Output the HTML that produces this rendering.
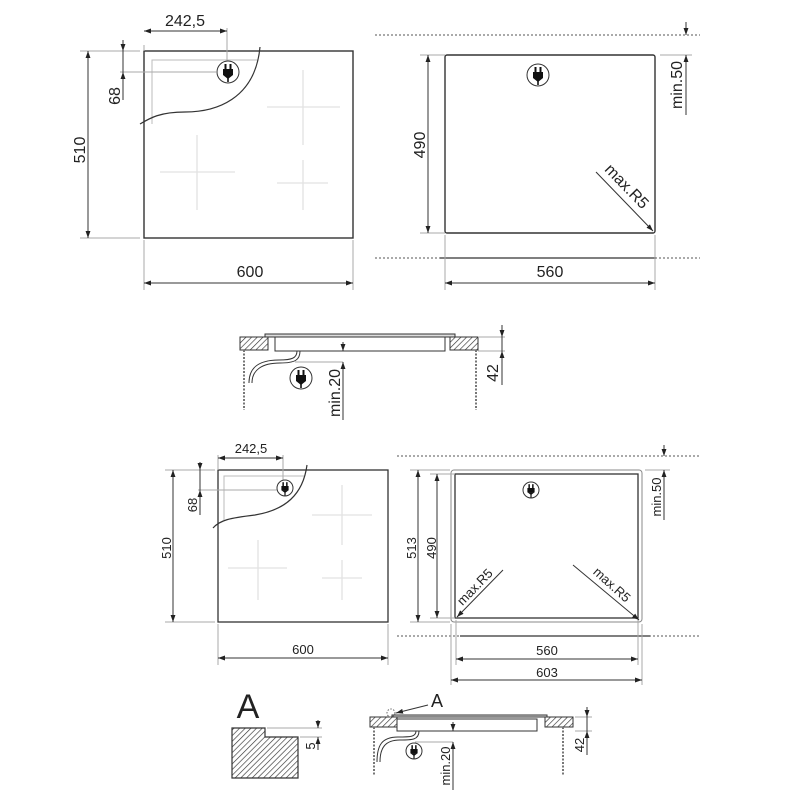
<!DOCTYPE html>
<html><head><meta charset="utf-8"><style>html,body{margin:0;background:#fff}svg{display:block}text{font-family:"Liberation Sans",sans-serif;fill:#222}</style></head><body>
<svg width="800" height="800" viewBox="0 0 800 800" xmlns="http://www.w3.org/2000/svg">
<defs>
<marker id="a" viewBox="0 0 10 10" refX="10" refY="5" markerWidth="7" markerHeight="7" orient="auto-start-reverse"><path d="M0,1.5 L10,5 L0,8.5z" fill="#222"/></marker>
<pattern id="h" width="4" height="4" patternUnits="userSpaceOnUse" patternTransform="rotate(45)"><rect width="4" height="4" fill="#fff"/><line x1="0" y1="0" x2="0" y2="4" stroke="#333" stroke-width="1.3"/></pattern>
<g id="plug"><circle r="11" fill="#fff" stroke="#333" stroke-width="1"/><rect x="-5" y="-3" width="10" height="6" fill="#111"/><rect x="-3.5" y="-8" width="2" height="5" fill="#111"/><rect x="1.5" y="-8" width="2" height="5" fill="#111"/><path d="M-5,3 L0,7 L5,3z" fill="#111"/><rect x="-0.8" y="6" width="1.6" height="4" fill="#111"/></g>
<g id="plugs"><circle r="8" fill="#fff" stroke="#333" stroke-width="1"/><rect x="-3.6" y="-2" width="7.2" height="4.4" fill="#111"/><rect x="-2.6" y="-5.8" width="1.5" height="4" fill="#111"/><rect x="1.1" y="-5.8" width="1.5" height="4" fill="#111"/><path d="M-3.6,2.3 L0,5 L3.6,2.3z" fill="#111"/><rect x="-0.6" y="4.5" width="1.2" height="3" fill="#111"/></g>
</defs>
<g fill="none" stroke="#333" stroke-width="1">
<rect x="144" y="51" width="209" height="187" stroke-width="1.4"/>
<path d="M152,124 V60 H258" stroke="#bbb"/>
<g stroke="#e2e2e2" stroke-width="1.3"><path d="M160,172H235M197,135V210M267,107H340M303,70V145M277,183H328M303,160V210"/></g>
<path d="M260,47 C255,100 215,112 185,112 C160,112 150,118 140,124" stroke-width="1.2"/>
<path d="M144,45V51M227,28V62M120,72H216M353,240V290M144,240V290M80,51H140M80,238H140" stroke="#aaa"/>
<path d="M144,31H227" marker-start="url(#a)" marker-end="url(#a)"/>
<path d="M123,40V51" marker-end="url(#a)"/><path d="M123,100V72" marker-end="url(#a)"/><path d="M123,51V72"/>
<path d="M88,51V238" marker-start="url(#a)" marker-end="url(#a)"/>
<path d="M144,283H353" marker-start="url(#a)" marker-end="url(#a)"/>
<path d="M375,35H700M375,258H700" stroke-dasharray="2 2" stroke="#555"/>
<path d="M440,258H656" stroke-width="1.2"/>
<rect x="445" y="55" width="210" height="178" rx="2" stroke-width="1.4"/>
<path d="M420,55H445M420,233H445M445,235V290M655,235V290M660,55H692" stroke="#aaa"/>
<path d="M428,55V233" marker-start="url(#a)" marker-end="url(#a)"/>
<path d="M686,22V35" marker-end="url(#a)"/><path d="M686,115V55" marker-end="url(#a)"/>
<path d="M596,172L653,231" marker-end="url(#a)"/>
<path d="M445,283H655" marker-start="url(#a)" marker-end="url(#a)"/>
<rect x="240" y="337" width="28" height="13" fill="url(#h)"/>
<rect x="450" y="337" width="28" height="13" fill="url(#h)"/>
<rect x="265" y="334" width="190" height="3" fill="#ddd"/>
<rect x="275" y="337" width="170" height="14"/>
<path d="M244,350V410M476,350V410" stroke="#777" stroke-dasharray="2 1.5" stroke-width="2"/>
<path d="M300,351 C300,360 295,363 280,363 C262,363 252,370 252,383 M297,351 C297,358 292,360 279,360 C258,360 249,368 249,383"/>
<path d="M295,362H343M478,351H505M478,337H505" stroke="#aaa"/>
<path d="M343,342V351" marker-end="url(#a)"/><path d="M343,420V362" marker-end="url(#a)"/>
<path d="M502,325V337" marker-end="url(#a)"/><path d="M502,385V351" marker-end="url(#a)"/><path d="M502,337V351"/>
<rect x="218" y="470" width="170" height="152" stroke-width="1.3"/>
<path d="M224,520V476H305" stroke="#bbb"/>
<g stroke="#e2e2e2" stroke-width="1.3"><path d="M228,568H287M258,540V600M312,515H372M342,485V545M322,578H362M342,560V600"/></g>
<path d="M307,465 C303,495 285,510 255,515 C230,518 220,520 213,528" stroke-width="1.2"/>
<path d="M218,455V470M283,455V490M198,490H280M218,624V665M388,624V665M165,470H215M165,622H215" stroke="#aaa"/>
<path d="M218,458H283" marker-start="url(#a)" marker-end="url(#a)"/>
<path d="M200,462V470" marker-end="url(#a)"/><path d="M200,515V490" marker-end="url(#a)"/><path d="M200,470V490"/>
<path d="M173,470V622" marker-start="url(#a)" marker-end="url(#a)"/>
<path d="M218,658H388" marker-start="url(#a)" marker-end="url(#a)"/>
<path d="M397,456H700M397,636H700" stroke-dasharray="2 2" stroke="#555"/>
<path d="M460,636H650" stroke-width="1.2"/>
<rect x="451" y="470" width="191" height="152" rx="3" stroke="#888"/>
<rect x="455" y="474" width="183" height="144" stroke-width="1.3"/>
<path d="M410,470H450M430,474H455M410,622H450M430,618H455M451,624V685M642,624V685M456,620V665M638,620V665M645,470H670" stroke="#aaa"/>
<path d="M418,470V622" marker-start="url(#a)" marker-end="url(#a)"/>
<path d="M437,474V618" marker-start="url(#a)" marker-end="url(#a)"/>
<path d="M664,445V456" marker-end="url(#a)"/><path d="M664,520V470" marker-end="url(#a)"/>
<path d="M503,570L457,617" marker-end="url(#a)"/>
<path d="M573,565L639,620" marker-end="url(#a)"/>
<path d="M456,659H638" marker-start="url(#a)" marker-end="url(#a)"/>
<path d="M451,680H642" marker-start="url(#a)" marker-end="url(#a)"/>
<path d="M232,728H265V737H298V778H232Z" fill="url(#h)" stroke-width="1.2"/>
<path d="M267,728H322M300,737H322" stroke="#aaa"/>
<path d="M318,720V728" marker-end="url(#a)"/><path d="M318,750V737" marker-end="url(#a)"/>
<rect x="370" y="717" width="27" height="10" fill="url(#h)"/>
<rect x="545" y="717" width="28" height="10" fill="url(#h)"/>
<rect x="392" y="715" width="155" height="2" fill="#ddd"/>
<rect x="397" y="719" width="140" height="12"/>
<path d="M374,727V775M563,727V775" stroke="#777" stroke-dasharray="2 1.5" stroke-width="2"/>
<path d="M419,731 C419,740 412,740 400,740 C385,740 380,748 380,762 M416,731 C416,737 410,737 398,737 C382,737 377,745 377,762"/>
<circle cx="391" cy="713" r="4" stroke-dasharray="1.5 1.5" stroke="#666"/>
<path d="M428,705L396,713" marker-end="url(#a)"/>
<path d="M415,742H453M575,717H592M575,731H592" stroke="#aaa"/>
<path d="M453,722V731" marker-end="url(#a)"/><path d="M453,790V742" marker-end="url(#a)"/>
<path d="M587,707V717" marker-end="url(#a)"/><path d="M587,755V731" marker-end="url(#a)"/><path d="M587,717V731"/>
</g>
<use href="#plug" x="228" y="72"/><use href="#plug" x="538" y="75"/><use href="#plug" x="301" y="378"/>
<use href="#plugs" x="285" y="488"/><use href="#plugs" x="531" y="490"/><use href="#plugs" x="414" y="751"/>
<g font-size="16" text-anchor="middle">
<text x="185" y="26">242,5</text>
<text x="250" y="277">600</text>
<text x="550" y="277">560</text>
<text transform="translate(120,96) rotate(-90)">68</text>
<text transform="translate(85,150) rotate(-90)">510</text>
<text transform="translate(425,145) rotate(-90)">490</text>
<text transform="translate(682,85) rotate(-90)">min.50</text>
<text transform="translate(623,190) rotate(46)">max.R5</text>
<text transform="translate(340,393) rotate(-90)">min.20</text>
<text transform="translate(498,373) rotate(-90)">42</text>
</g>
<g font-size="13" text-anchor="middle">
<text x="251" y="453">242,5</text>
<text x="303" y="654">600</text>
<text x="547" y="655">560</text>
<text x="547" y="677">603</text>
<text transform="translate(197,505) rotate(-90)">68</text>
<text transform="translate(171,548) rotate(-90)">510</text>
<text transform="translate(416,548) rotate(-90)">513</text>
<text transform="translate(436,548) rotate(-90)">490</text>
<text transform="translate(661,497) rotate(-90)">min.50</text>
<text transform="translate(478,590) rotate(-46)">max.R5</text>
<text transform="translate(609,588) rotate(42)">max.R5</text>
<text transform="translate(315,746) rotate(-90)">5</text>
<text transform="translate(450,766) rotate(-90)">min.20</text>
<text transform="translate(584,745) rotate(-90)">42</text>
</g>
<text x="248" y="718" font-size="34" text-anchor="middle">A</text>
<text x="437" y="707" font-size="18" text-anchor="middle">A</text>
</svg>
</body></html>
